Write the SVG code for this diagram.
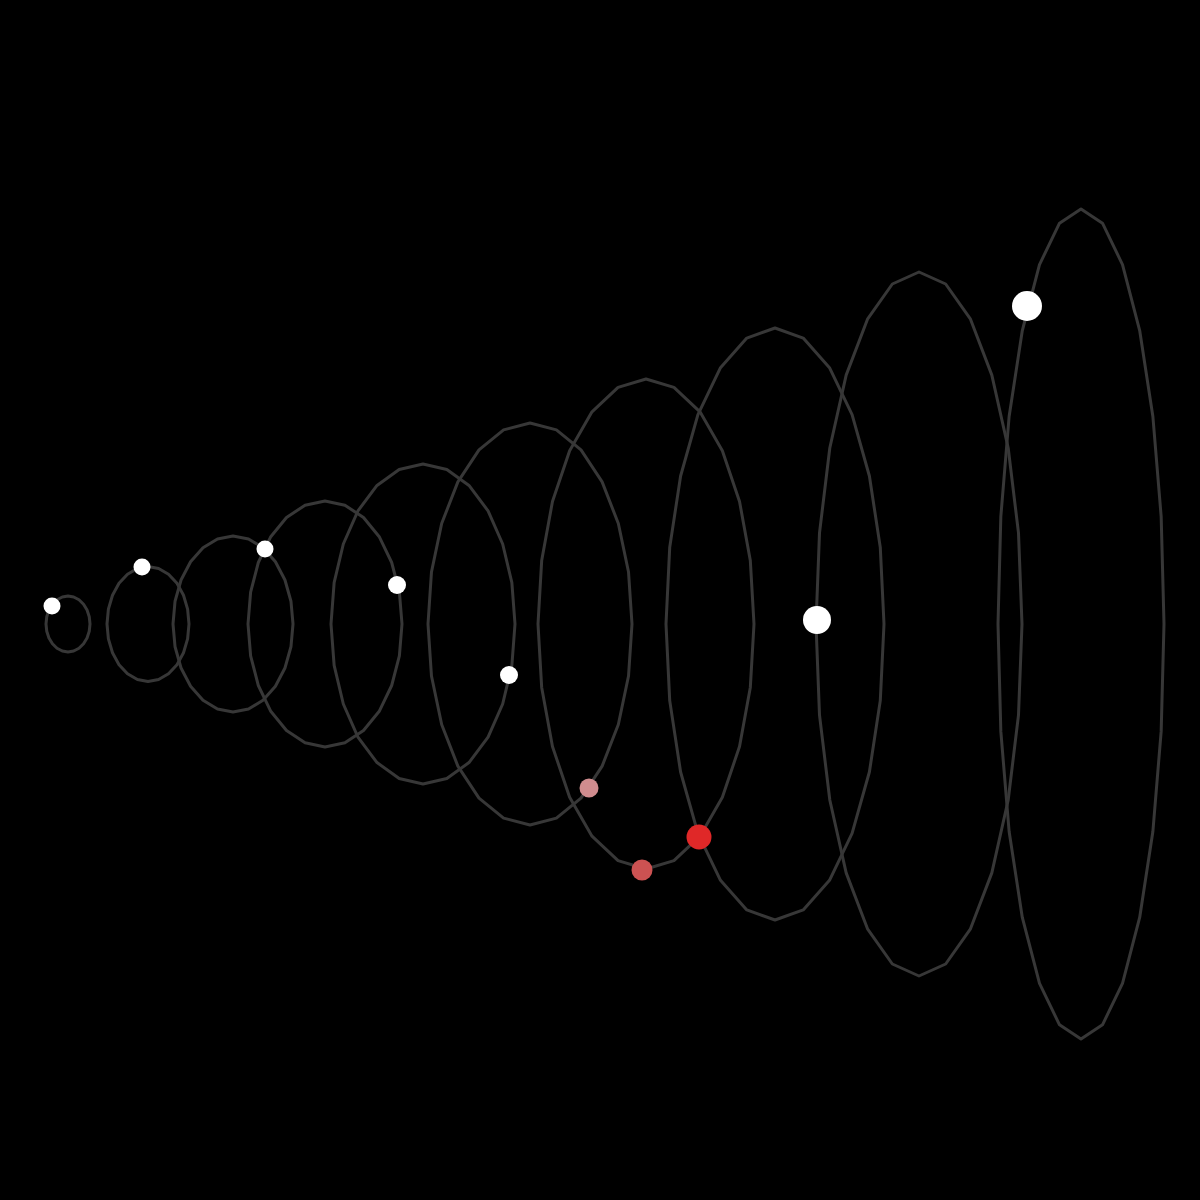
<svg xmlns="http://www.w3.org/2000/svg" xmlns:xlink="http://www.w3.org/1999/xlink" width="1200" height="1200" viewBox="0 0 1200 1200">
<style>
.ring{fill:none;stroke:#373737;stroke-width:3;stroke-linejoin:round}
.dot{fill:#ffffff}
</style>
<defs>
<polygon id="p24" vector-effect="non-scaling-stroke" points="0,-1 .2588,-.9659 .5,-.866 .7071,-.7071 .866,-.5 .9659,-.2588 1,0 .9659,.2588 .866,.5 .7071,.7071 .5,.866 .2588,.9659 0,1 -.2588,.9659 -.5,.866 -.7071,.7071 -.866,.5 -.9659,.2588 -1,0 -.9659,-.2588 -.866,-.5 -.7071,-.7071 -.5,-.866 -.2588,-.9659"/>
</defs>
<rect x="0" y="0" width="1200" height="1200" fill="#000000"/>
<g id="rings">
<use class="ring" xlink:href="#p24" href="#p24" transform="translate(68,624) scale(22,28)"/>
<use class="ring" xlink:href="#p24" href="#p24" transform="translate(148,624) scale(41,57.5)"/>
<use class="ring" xlink:href="#p24" href="#p24" transform="translate(233,624) scale(60,88)"/>
<use class="ring" xlink:href="#p24" href="#p24" transform="translate(325,624) scale(77,123)"/>
<use class="ring" xlink:href="#p24" href="#p24" transform="translate(423,624) scale(92,160)"/>
<use class="ring" xlink:href="#p24" href="#p24" transform="translate(530,624) scale(102,201)"/>
<use class="ring" xlink:href="#p24" href="#p24" transform="translate(646,624) scale(108,245)"/>
<use class="ring" xlink:href="#p24" href="#p24" transform="translate(775,624) scale(109,296)"/>
<use class="ring" xlink:href="#p24" href="#p24" transform="translate(919,624) scale(103,352)"/>
<use class="ring" xlink:href="#p24" href="#p24" transform="translate(1081,624) scale(83,415)"/>
</g>
<g id="dots">
<circle class="dot" cx="52" cy="606" r="8.5"/>
<circle class="dot" cx="142" cy="567" r="8.5"/>
<circle class="dot" cx="265" cy="549" r="8.5"/>
<circle class="dot" cx="397" cy="585" r="9"/>
<circle class="dot" cx="509" cy="675" r="9"/>
<circle cx="589" cy="788" r="9.5" fill="#d08c8e"/>
<circle cx="642" cy="870" r="10.5" fill="#cc5252"/>
<circle cx="699" cy="837" r="12.5" fill="#e02828"/>
<circle class="dot" cx="817" cy="620" r="14"/>
<circle class="dot" cx="1027" cy="306" r="15"/>
</g>
</svg>
